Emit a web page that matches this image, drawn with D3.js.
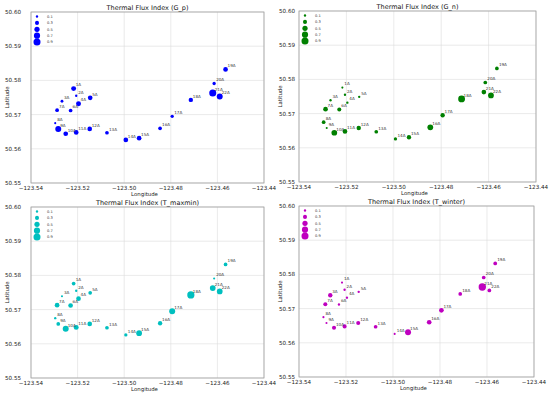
<!DOCTYPE html>
<html>
<head>
<meta charset="utf-8">
<script src="https://cdn.jsdelivr.net/npm/d3@7"></script>
<style>
  body { margin: 0; background: #fff; }
  svg { font-family: "DejaVu Sans", sans-serif; }
</style>
</head>
<body>
<div id="chart"></div>
<script>
// station ids and positions
var sites = ["1A","2A","3A","4A","5A","6A","7A","8A","9A","10A","11A","12A","13A","14A","15A","16A","17A","18A","19A","20A","21A","22A"];
var lon = [-123.5217,-123.5206,-123.5267,-123.5196,-123.5146,-123.5230,-123.5288,-123.5296,-123.5283,-123.5251,-123.5206,-123.5148,-123.5074,-123.4993,-123.4936,-123.4846,-123.4794,-123.4714,-123.4565,-123.4614,-123.4620,-123.4590];
var lat = [50.5776,50.5755,50.5739,50.5732,50.5749,50.5712,50.5713,50.5675,50.5658,50.5644,50.5648,50.5658,50.5647,50.5626,50.5631,50.5660,50.5695,50.5743,50.5832,50.5791,50.5763,50.5753];

// index values per panel
var gP       = [0.45,0.10,0.15,0.45,0.40,0.25,0.25,0.08,0.65,0.40,0.40,0.40,0.25,0.40,0.40,0.25,0.20,0.35,0.40,0.20,0.90,0.65];
var gN       = [0.08,0.10,0.10,0.10,0.10,0.30,0.40,0.25,0.08,0.60,0.40,0.35,0.25,0.20,0.35,0.60,0.35,0.85,0.25,0.25,0.40,0.60];
var tMaxmin  = [0.25,0.10,0.08,0.40,0.25,0.40,0.40,0.10,0.25,0.65,0.45,0.40,0.25,0.20,0.60,0.35,0.65,0.95,0.25,0.08,0.60,0.60];
var tWinter  = [0.08,0.10,0.35,0.10,0.10,0.10,0.30,0.08,0.08,0.30,0.30,0.30,0.25,0.08,0.65,0.40,0.40,0.25,0.25,0.25,1.00,0.25];

var legendValues = [0.1, 0.3, 0.5, 0.7, 0.9];
var xTicks = [-123.54, -123.52, -123.50, -123.48, -123.46, -123.44];
var yTicks = [50.55, 50.56, 50.57, 50.58, 50.59, 50.60];

var W = 550, H = 394;

var panels = [
  {title: "Thermal Flux Index (G_p)",      vals: gP,      color: "#0000ff", l: 31,  r: 264, t: 12,  b: 183, yGap: 10, latX: 7},
  {title: "Thermal Flux Index (G_n)",      vals: gN,      color: "#008000", l: 299, r: 536, t: 11,  b: 182, yGap: 4,  latX: 280},
  {title: "Thermal Flux Index (T_maxmin)", vals: tMaxmin, color: "#00bfbf", l: 31,  r: 264, t: 207, b: 378, yGap: 10, latX: 7},
  {title: "Thermal Flux Index (T_winter)", vals: tWinter, color: "#bf00bf", l: 299, r: 534, t: 206, b: 377, yGap: 4,  latX: 280}
];

var svg = d3.select("#chart").append("svg")
    .attr("width", W)
    .attr("height", H);

var rScale = d3.scaleSqrt().domain([0, 1]).range([0, 3.7]);
var fmtX = d3.format(".2f");

panels.forEach(function(p) {
    var x = d3.scaleLinear().domain([-123.54, -123.44]).range([p.l, p.r]);
    var y = d3.scaleLinear().domain([50.55, 50.60]).range([p.b, p.t]);
    var g = svg.append("g");

    // grid
    g.selectAll(".vg").data(xTicks).enter().append("line")
        .attr("x1", d => x(d)).attr("x2", d => x(d))
        .attr("y1", p.t).attr("y2", p.b)
        .attr("stroke", "#dcdcdc").attr("stroke-width", 0.6);
    g.selectAll(".hg").data(yTicks).enter().append("line")
        .attr("x1", p.l).attr("x2", p.r)
        .attr("y1", d => y(d)).attr("y2", d => y(d))
        .attr("stroke", "#dcdcdc").attr("stroke-width", 0.6);

    // frame
    g.append("rect")
        .attr("x", p.l).attr("y", p.t)
        .attr("width", p.r - p.l).attr("height", p.b - p.t)
        .attr("fill", "none").attr("stroke", "#a0a0a0").attr("stroke-width", 0.8);

    // tick labels
    g.selectAll(".xt").data(xTicks).enter().append("text")
        .attr("x", d => x(d)).attr("y", p.b + 6.5)
        .attr("text-anchor", "middle")
        .style("font-size", "5.6px").attr("fill", "#222")
        .text(d => fmtX(d));
    g.selectAll(".yt").data(yTicks).enter().append("text")
        .attr("x", p.l - p.yGap).attr("y", d => y(d) + 2)
        .attr("text-anchor", "end")
        .style("font-size", "5.6px").attr("fill", "#222")
        .text(d => d.toFixed(2));

    // title + axis labels
    g.append("text")
        .attr("x", (p.l + p.r) / 2).attr("y", p.t - 2.5)
        .attr("text-anchor", "middle")
        .style("font-size", "6.5px").attr("fill", "#111")
        .text(p.title);
    g.append("text")
        .attr("x", (p.l + p.r) / 2 - 3).attr("y", p.b + 12.5)
        .attr("text-anchor", "middle")
        .style("font-size", "5.4px").attr("fill", "#222")
        .text("Longitude");
    g.append("text")
        .attr("transform", "translate(" + (p.latX + 2) + "," + ((p.t + p.b) / 2) + ") rotate(-90)")
        .attr("text-anchor", "middle")
        .style("font-size", "5.4px").attr("fill", "#222")
        .text("Latitude");

    // points
    g.selectAll(".pt").data(sites).enter().append("circle")
        .attr("cx", (d, i) => x(lon[i]))
        .attr("cy", (d, i) => y(lat[i]))
        .attr("r", (d, i) => rScale(p.vals[i]))
        .attr("fill", p.color);

    g.selectAll(".lbl").data(sites).enter().append("text")
        .attr("x", (d, i) => x(lon[i]) + 2)
        .attr("y", (d, i) => y(lat[i]) - 2.2)
        .style("font-size", "4.1px").attr("fill", "#333")
        .text(d => d);

    // legend
    var leg = g.selectAll(".leg").data(legendValues).enter().append("g")
        .attr("transform", (d, i) => "translate(" + (p.l + 6) + "," + (p.t + 4.5 + i * 6.4) + ")");
    leg.append("circle").attr("r", d => rScale(d)).attr("fill", p.color);
    leg.append("text").attr("x", 10).attr("y", 1.2)
        .style("font-size", "3.6px").attr("fill", "#333")
        .text(d => d);
});
</script>
</body>
</html>
